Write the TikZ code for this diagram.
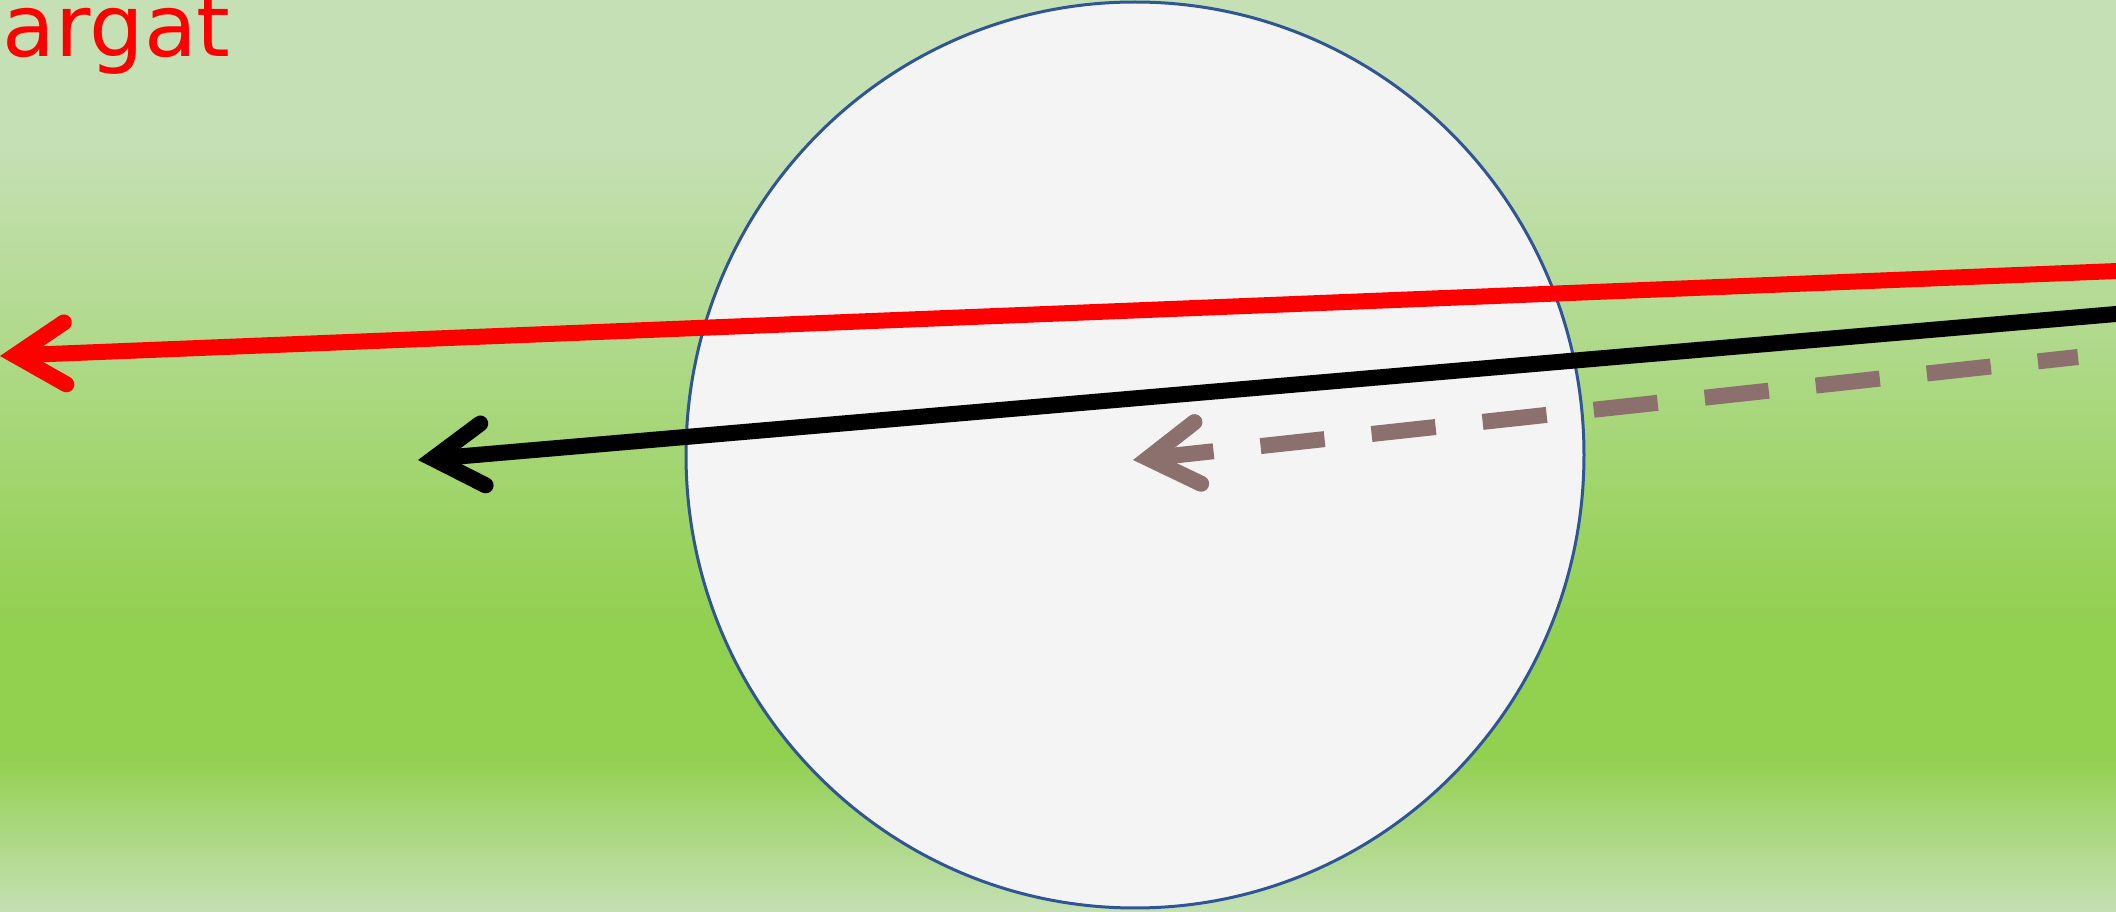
\documentclass[tikz,border=0pt]{standalone}
\usepackage{fontspec}
\setmainfont{DejaVu Sans}
\usetikzlibrary{arrows.meta,shapes.geometric}
\definecolor{bgpale}{HTML}{C5E0B4}
\definecolor{bggreen}{HTML}{92D050}
\definecolor{discfill}{HTML}{F4F4F5}
\definecolor{discline}{HTML}{2F5597}
\definecolor{dashbrown}{HTML}{8C706E}
% TikZ maps the path's box onto 25bp..75bp of the declared shading
\pgfdeclareverticalshading{bgshade}{100bp}{%
  color(0bp)=(bgpale);
  color(25bp)=(bgpale);
  color(33.5bp)=(bggreen);
  color(41bp)=(bggreen);
  color(67bp)=(bgpale);
  color(75bp)=(bgpale);
  color(100bp)=(bgpale)}
\tikzset{
  disc/.style={ellipse, draw=discline, fill=discfill, line width=0.3mm, minimum width=89.8mm, minimum height=90.6mm, inner sep=0pt},
  ray/.style={line width=1.6mm, -{Straight Barb[length=5mm, width=6.2mm, line cap=round, line join=miter]}},
  label/.style={text=red, font=\fontsize{24.5pt}{26pt}\selectfont, inner sep=0pt, anchor=base west}
}
\begin{document}
\begin{tikzpicture}[x=0.1mm, y=-0.1mm]
  \useasboundingbox (0,0) rectangle (2116,912);
  \shade[shading=bgshade] (0,0) rectangle (2116,912);
  \node[disc] (c) at (1135,455) {};
  \node[label] (t) at (2,57) {argat};
  \coordinate (rs) at (2130,270.5);
  \coordinate (rt) at (0,356);
  \coordinate (bs) at (2130,312.8);
  \coordinate (bt) at (418,460);
  \coordinate (ds) at (2078,357);
  \coordinate (dt) at (1133,460);
  \draw[ray, draw=red] (rs) -- (rt);
  \draw[ray, draw=black] (bs) -- (bt);
  \draw[ray, draw=dashbrown, dash pattern=on 6.44mm off 4.73mm, dash phase=2.4mm] (ds) -- (dt);
\end{tikzpicture}
\end{document}
